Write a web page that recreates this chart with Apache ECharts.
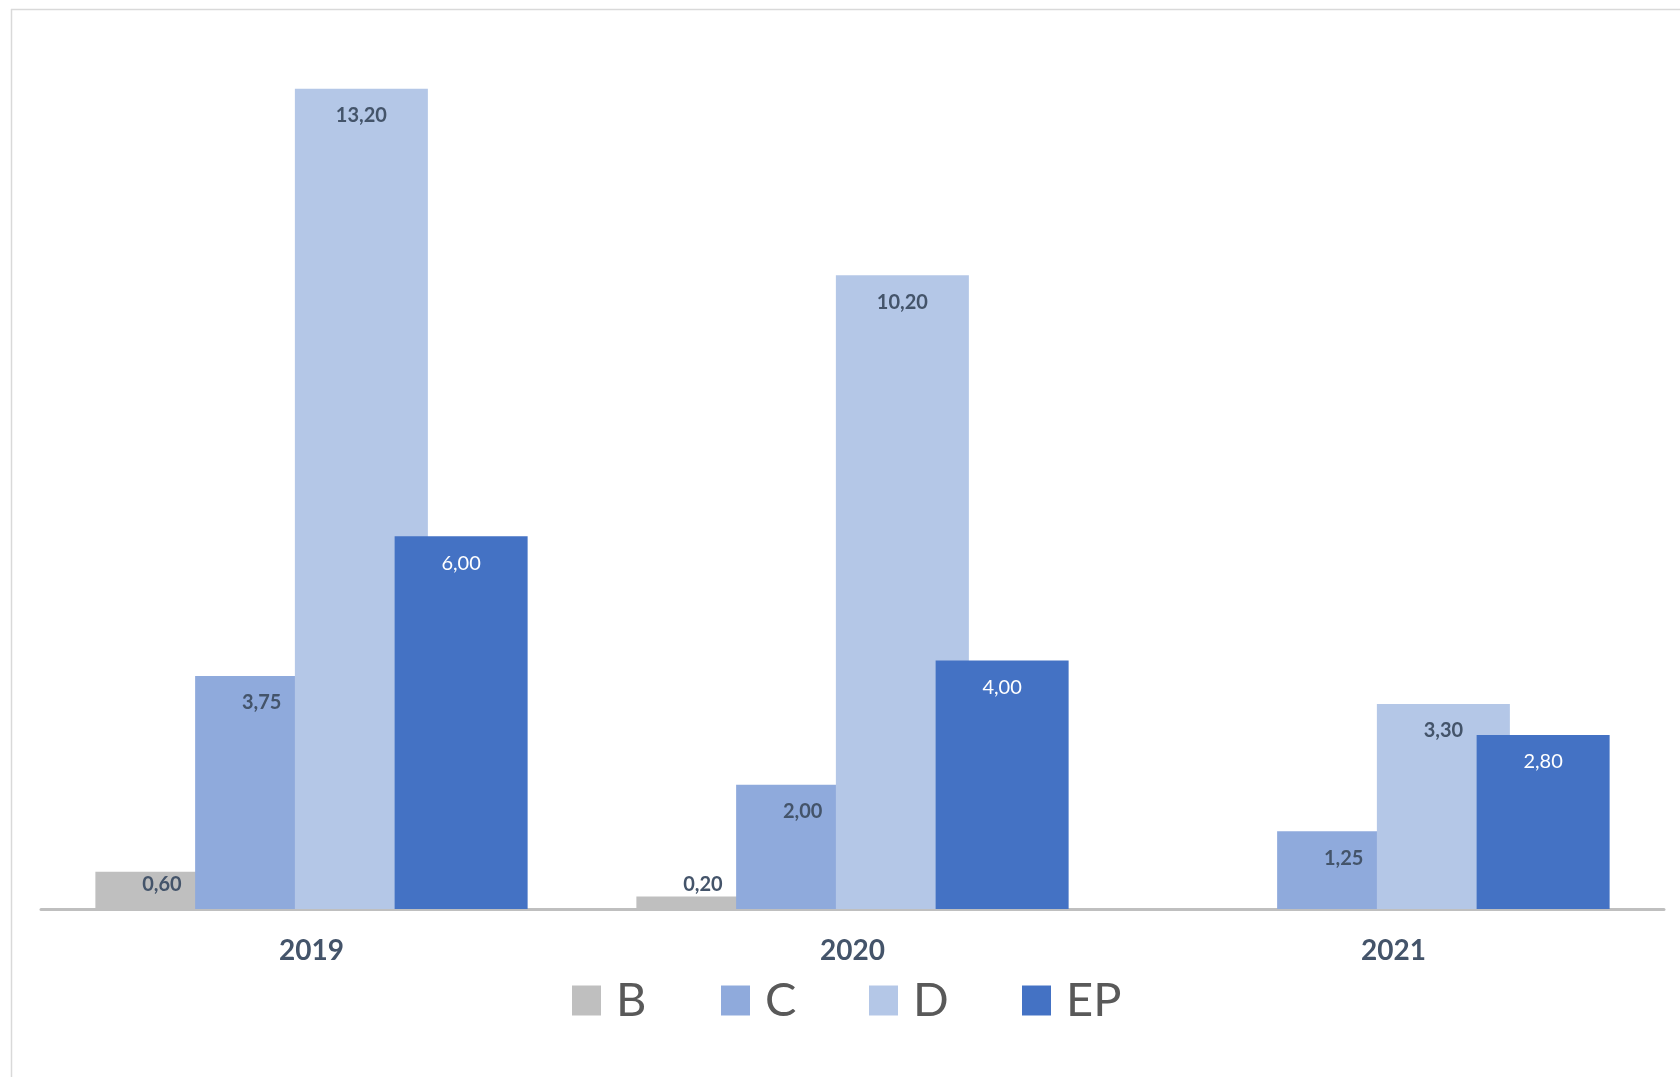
<!DOCTYPE html>
<html>
<head>
<meta charset="utf-8">
<style>
  html, body { margin: 0; padding: 0; background: #ffffff; }
  #chart { width: 1680px; height: 1077px; }
</style>
<script src="https://cdn.jsdelivr.net/npm/echarts@6/dist/echarts.min.js"></script>
</head>
<body>
<div id="chart"></div>
<script>
const categories = ['2019', '2020', '2021'];
const seriesNames = ['B', 'C', 'D', 'EP'];
const valuesB = [0.60, 0.20, null];
const valuesC = [3.75, 2.00, 1.25];
const valuesD = [13.20, 10.20, 3.30];
const valuesEP = [6.00, 4.00, 2.80];

const colors = { B: '#bfbfbf', C: '#8faadc', D: '#b4c7e7', EP: '#4472c4' };
const FONT = 'Lato, "Open Sans", sans-serif';
const fmt = p => (p.value == null ? '' : Number(p.value).toFixed(2).replace('.', ','));

function makeSeries(name, data, labelColor, bold, position, distance) {
  return {
    name: name,
    type: 'bar',
    data: data,
    barWidth: 133,
    barGap: '-25%',
    itemStyle: { color: colors[name] },
    label: {
      show: true,
      position: position,
      distance: distance,
      formatter: fmt,
      color: labelColor,
      fontFamily: FONT,
      fontSize: 20,
      fontWeight: bold ? 'bold' : 'normal'
    },
    emphasis: { disabled: true },
    animation: false
  };
}

const legendLefts = [567, 716, 864, 1017];
const legends = seriesNames.map((n, i) => ({
  data: [n],
  left: legendLefts[i],
  top: 972,
  itemWidth: 29,
  itemHeight: 30,
  icon: 'rect',
  selectedMode: false,
  textStyle: {
    color: '#595959',
    fontFamily: FONT,
    fontSize: 47,
    padding: [0, 0, 0, 10]
  }
}));

const chart = echarts.init(document.getElementById('chart'));
chart.setOption({
  backgroundColor: '#ffffff',
  animation: false,
  grid: { left: 41, right: 16, top: 39, bottom: 168, containLabel: false },
  xAxis: {
    type: 'category',
    data: categories,
    axisLine: { show: true, lineStyle: { color: '#bfbfbf', width: 3 } },
    axisTick: { show: false },
    axisLabel: {
      color: '#44546a',
      fontFamily: FONT,
      fontSize: 28,
      fontWeight: 'bold',
      margin: 28
    }
  },
  yAxis: {
    type: 'value',
    min: 0,
    max: 14,
    show: false,
    splitLine: { show: false }
  },
  legend: legends,
  graphic: [
    { type: 'line', shape: { x1: 11, y1: 9.5, x2: 1680, y2: 9.5 }, style: { stroke: '#d9d9d9', lineWidth: 1.5 } },
    { type: 'line', shape: { x1: 11.5, y1: 9, x2: 11.5, y2: 1077 }, style: { stroke: '#d9d9d9', lineWidth: 1.5 } }
  ],
  series: [
    makeSeries('B', valuesB, '#44546a', true, 'insideBottom', 14),
    makeSeries('C', valuesC, '#44546a', true, 'insideTop', 17),
    makeSeries('D', valuesD, '#44546a', true, 'insideTop', 17),
    makeSeries('EP', valuesEP, '#ffffff', false, 'insideTop', 17)
  ]
});
</script>
</body>
</html>
